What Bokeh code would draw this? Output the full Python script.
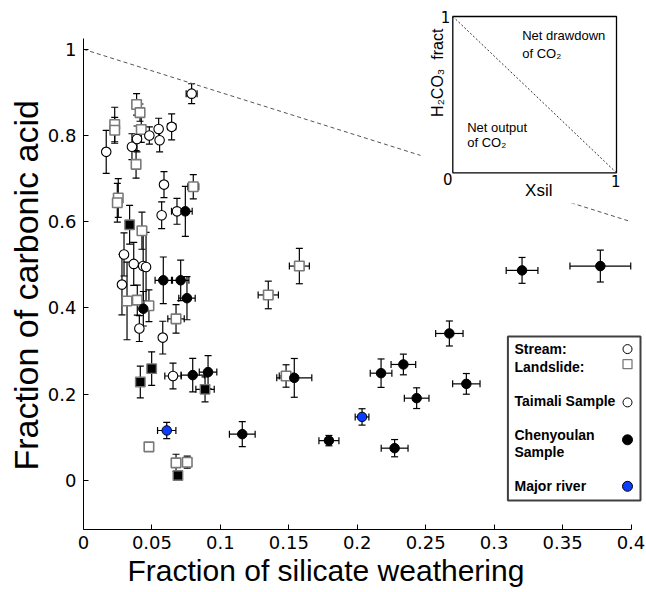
import math
from bokeh.plotting import figure
from bokeh.models import Range1d, FixedTicker, Whisker, TeeHead, ColumnDataSource, Title
from bokeh.core.properties import value
from bokeh.embed import file_html
from bokeh.resources import INLINE

# ---------------- data ----------------
# Taimali stream samples (open circles)
ts_x = [0.0166, 0.0354, 0.0391, 0.0481, 0.0549, 0.0556, 0.0644, 0.079, 0.0588, 0.0571,
        0.0683, 0.0296, 0.0367, 0.0436, 0.0457, 0.0281, 0.0408, 0.0579, 0.0654]
ts_y = [0.762, 0.774, 0.792, 0.800, 0.815, 0.789, 0.820, 0.897, 0.686, 0.615,
        0.624, 0.524, 0.502, 0.497, 0.495, 0.454, 0.352, 0.331, 0.242]
ts_ye = [0.05, 0.03, 0.03, 0.02, 0.025, 0.027, 0.03, 0.023, 0.03, 0.031,
         0.03, 0.05, 0.05, 0.08, 0.08, 0.07, 0.03, 0.038, 0.03]
ts_xe = [0, 0, 0, 0, 0, 0, 0.003, 0.004, 0, 0,
         0.004, 0, 0, 0, 0, 0, 0, 0, 0.006]

# Taimali landslide samples (open squares)
tl_x = [0.0228, 0.0228, 0.0388, 0.0413, 0.0422, 0.0384, 0.0254, 0.0247, 0.0802, 0.0427,
        0.0318, 0.0393, 0.0478, 0.0676, 0.135, 0.1577, 0.148, 0.0478, 0.0676, 0.0758]
tl_y = [0.8255, 0.812, 0.872, 0.853, 0.814, 0.733, 0.655, 0.644, 0.681, 0.579,
        0.416, 0.418, 0.405, 0.3745, 0.43, 0.497, 0.242, 0.0776, 0.0404, 0.042]
tl_ye = [0.04, 0.03, 0.025, 0.02, 0.03, 0.032, 0.045, 0.045, 0.028, 0.043,
         0.09, 0.035, 0.037, 0.033, 0.032, 0.041, 0.026, 0, 0.02, 0.014]
tl_xe = [0, 0, 0, 0, 0, 0, 0, 0, 0.004, 0,
         0, 0, 0, 0.006, 0.0074, 0.0073, 0.005, 0, 0, 0]

# Chenyoulan stream samples (filled circles)
cs_x = [0.0744, 0.0583, 0.071, 0.0756, 0.0437, 0.0798, 0.091, 0.116, 0.154,
        0.1793, 0.2174, 0.2337, 0.2434, 0.2273, 0.2673, 0.2797, 0.3204, 0.3776]
cs_y = [0.624, 0.464, 0.464, 0.4225, 0.398, 0.244, 0.251, 0.107, 0.2376,
        0.092, 0.2485, 0.2687, 0.1905, 0.0745, 0.3406, 0.2237, 0.487, 0.497]
cs_ye = [0.058, 0.054, 0.047, 0.05, 0.04, 0.039, 0.038, 0.029, 0.045,
         0.012, 0.033, 0.024, 0.024, 0.02, 0.029, 0.024, 0.030, 0.037]
cs_xe = [0.005, 0.006, 0.006, 0.006, 0, 0.0085, 0.0064, 0.0094, 0.0128,
         0.0073, 0.0079, 0.009, 0.009, 0.0098, 0.010, 0.010, 0.0116, 0.0222]

# Chenyoulan landslide samples (filled squares)
cl_x = [0.0337, 0.0498, 0.0415, 0.0888, 0.069]
cl_y = [0.593, 0.259, 0.228, 0.211, 0.011]
cl_ye = [0.045, 0.039, 0.037, 0.029, 0.01]
cl_xe = [0, 0.003, 0.003, 0.0067, 0.003]

# Major rivers (blue circles)
mr_x = [0.0608, 0.2035]
mr_y = [0.1155, 0.147]
mr_ye = [0.019, 0.019]
mr_xe = [0.0067, 0.005]

x_ticks = [0, 0.05, 0.1, 0.15, 0.2, 0.25, 0.3, 0.35, 0.4]
x_tick_labels = ["0", "0.05", "0.1", "0.15", "0.2", "0.25", "0.3", "0.35", "0.4"]
y_ticks = [0, 0.2, 0.4, 0.6, 0.8, 1.0]
y_tick_labels = ["0", "0.2", "0.4", "0.6", "0.8", "1"]

# 1:1 line (H2CO3 fraction = 1 - Xsil)
line_x = [0.0, 0.4]
line_y = [1 - v for v in line_x]

x_title = "Fraction of silicate weathering"
y_title = "Fraction of carbonic acid"
legend_labels = ["Stream:", "Landslide:", "Taimali Sample", "Chenyoulan", "Sample", "Major river"]

# ---------------- layout constants ----------------
W, H = 646, 592
FL, FR, FT, FB = 83, 646, 0, 529          # frame edges in canvas px
X0, X1 = 0.0, (FR - FL) / 1368.75
Y0 = -0.1142
Y1 = Y0 + (FB - FT) / 431.0

p = figure(width=W, height=H, x_range=Range1d(X0, X1), y_range=Range1d(Y0, Y1),
           output_backend="svg", toolbar_location=None,
           min_border_left=FL, min_border_right=W - FR, min_border_top=FT,
           min_border_bottom=H - FB)
p.outline_line_color = None
p.grid.visible = False
p.background_fill_color = "white"
p.border_fill_color = "white"

# pixel-coordinate ranges for decorations (canvas px, y downwards)
p.extra_x_ranges = {"px": Range1d(FL, FR)}
p.extra_y_ranges = {"px": Range1d(FB, FT)}

for ax, ticks, labels, bnds in ((p.xaxis[0], x_ticks, x_tick_labels, (0, 0.4)),
                                (p.yaxis[0], y_ticks, y_tick_labels, (Y0, 1.025))):
    ax.ticker = FixedTicker(ticks=ticks)
    ax.major_label_overrides = {t: l for t, l in zip(ticks, labels)}
    ax.bounds = bnds
    ax.minor_tick_line_color = None
    ax.major_tick_in = 5
    ax.major_tick_out = 0
    ax.axis_line_color = "black"
    ax.major_tick_line_color = "black"
    ax.major_label_text_font = "DejaVu Sans"
    ax.major_label_text_font_size = "18px"
    ax.major_label_text_color = "black"

p.xaxis.major_label_standoff = 6
p.yaxis.major_label_standoff = 7

# axis titles, placed as in the original (offset from the frame edge)
p.add_layout(Title(text=x_title, align="left", offset=44, standoff=0,
                   text_font="Liberation Sans", text_font_size="30px",
                   text_font_style="normal", text_color="black"), "below")
p.add_layout(Title(text=y_title, align="left", offset=59, standoff=0,
                   text_font="Liberation Sans", text_font_size="34px",
                   text_font_style="normal", text_color="black"), "left")

# dashed 1:1 line
p.line(line_x, line_y, line_color="#555555", line_width=1, line_dash="4 3")

# white area of the inset axes (hides the line behind it)
INS = dict(x_range_name="px", y_range_name="px")
p.quad(left=[420], right=[FR], top=[FT], bottom=[203], fill_color="white",
       line_color=None, **INS)

# ---------------- inset ----------------
bx0, bx1, by0, by1 = 452.3, 616.0, 16.0, 172.3   # inset box, canvas px
def ix(u):
    return bx0 + u * (bx1 - bx0)
def iy(v):
    return by1 - v * (by1 - by0)

p.quad(left=[bx0], right=[bx1], top=[by0], bottom=[by1], fill_color="white",
       line_color="black", line_width=1.3, **INS)
p.line([ix(0), ix(1)], [iy(1), iy(0)], line_color="#333333", line_width=1,
       line_dash="2 2", **INS)
p.text(x=[ix(-0.015)], y=[iy(1.0)], text=["1"], text_font=value("DejaVu Sans"),
       text_font_size="15px", text_align="right", text_baseline="middle", **INS)
p.text(x=[ix(-0.03)], y=[iy(-0.04)], text=["0"], text_font=value("DejaVu Sans"),
       text_font_size="15px", text_align="center", text_baseline="middle", **INS)
p.text(x=[ix(0.995)], y=[iy(-0.05)], text=["1"], text_font=value("DejaVu Sans"),
       text_font_size="15px", text_align="center", text_baseline="middle", **INS)
p.text(x=[ix(0.525)], y=[iy(-0.115)], text=["Xsil"], text_font=value("Liberation Sans"),
       text_font_size="17px", text_align="center", text_baseline="middle", **INS)
p.text(x=[ix(-0.095)], y=[iy(0.64)], text=["H\u2082CO\u2083\u00a0\u00a0fract"],
       text_font=value("Liberation Sans"), text_font_size="16px", angle=math.pi / 2,
       text_align="center", text_baseline="middle", **INS)
for txt, u, v in (("Net drawdown", 0.424, 0.878), ("of CO\u2082", 0.424, 0.765),
                  ("Net output", 0.088, 0.292), ("of CO\u2082", 0.088, 0.196)):
    p.text(x=[ix(u)], y=[iy(v)], text=[txt], text_font=value("Liberation Sans"),
           text_font_size="13px", text_align="left", text_baseline="middle", **INS)

# ---------------- data markers with error bars ----------------
def draw(xs, ys, ye, xe, marker, fill, line, lw):
    src = ColumnDataSource(dict(x=xs, y=ys))
    idx = [i for i, e in enumerate(ye) if e > 0]
    vsrc = ColumnDataSource(dict(x=[xs[i] for i in idx],
                                 yl=[ys[i] - ye[i] for i in idx],
                                 yu=[ys[i] + ye[i] for i in idx]))
    p.add_layout(Whisker(source=vsrc, base="x", lower="yl", upper="yu",
                         dimension="height", line_color="black", line_width=1.2,
                         upper_head=TeeHead(size=7, line_width=1.2, line_color="black"),
                         lower_head=TeeHead(size=7, line_width=1.2, line_color="black"),
                         level="underlay"))
    jdx = [i for i, e in enumerate(xe) if e > 0]
    if jdx:
        hsrc = ColumnDataSource(dict(y=[ys[i] for i in jdx],
                                     xl=[xs[i] - xe[i] for i in jdx],
                                     xu=[xs[i] + xe[i] for i in jdx]))
        p.add_layout(Whisker(source=hsrc, base="y", lower="xl", upper="xu",
                             dimension="width", line_color="black", line_width=1.2,
                             upper_head=TeeHead(size=7, line_width=1.2, line_color="black"),
                             lower_head=TeeHead(size=7, line_width=1.2, line_color="black"),
                             level="underlay"))
    p.scatter("x", "y", source=src, marker=marker, size=9.5, fill_color=fill,
              line_color=line, line_width=lw)

draw(tl_x, tl_y, tl_ye, tl_xe, "square", "white", "#7a7a7a", 1.6)
draw(ts_x, ts_y, ts_ye, ts_xe, "circle", "white", "black", 1.1)
draw(cl_x, cl_y, cl_ye, cl_xe, "square", "black", "#7a7a7a", 1.4)
draw(cs_x, cs_y, cs_ye, cs_xe, "circle", "black", "black", 1.0)
draw(mr_x, mr_y, mr_ye, mr_xe, "circle", "#0a3dff", "black", 1.0)

# ---------------- legend box ----------------
lx0, lx1, ly0, ly1 = 507.4, 640.0, 336.0, 500.0
p.quad(left=[lx0], right=[lx1], top=[ly0], bottom=[ly1], fill_color="white",
       line_color="#404040", line_width=2, **INS)
leg_text_y = [348.6, 366.7, 400.0, 434.8, 451.8, 485.8]
p.text(x=[514.0] * len(legend_labels), y=leg_text_y, text=legend_labels,
       text_font=value("Liberation Sans"), text_font_style="bold",
       text_font_size="14px", text_align="left", text_baseline="middle", **INS)
mk_x = 627.0
p.scatter([mk_x], [348.6], marker="circle", size=9, fill_color="white",
          line_color="black", line_width=1, **INS)
p.scatter([mk_x], [363.7], marker="square", size=9, fill_color="white",
          line_color="#7a7a7a", line_width=1.3, **INS)
p.scatter([mk_x], [401.9], marker="circle", size=9, fill_color="white",
          line_color="black", line_width=1, **INS)
p.scatter([mk_x], [439.3], marker="circle", size=10, fill_color="black",
          line_color="black", line_width=1, **INS)
p.scatter([mk_x], [485.8], marker="circle", size=10, fill_color="#0a3dff",
          line_color="black", line_width=1, **INS)

open("out.html", "w").write(file_html(p, INLINE))
